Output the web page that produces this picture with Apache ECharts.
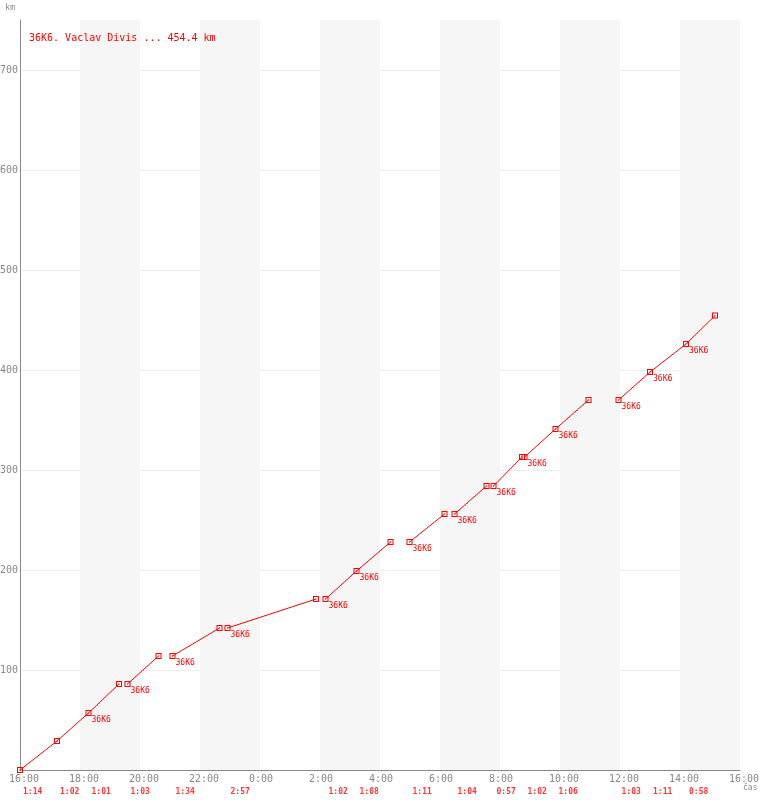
<!DOCTYPE html>
<html>
<head>
<meta charset="utf-8">
<script src="https://cdn.jsdelivr.net/npm/echarts@6/dist/echarts.min.js"></script>
<style>html,body{margin:0;padding:0;background:#fff}#c{width:760px;height:800px}</style>
</head>
<body>
<div id="c"></div>
<script>
// ---- data ----
const titleText = '36K6. Vaclav Divis ... 454.4 km';
const pointTag = '36K6';
const tickLabels = ['16:00','18:00','20:00','22:00','0:00','2:00','4:00','6:00','8:00','10:00','12:00','14:00','16:00'];
const segmentTimes = [
  ['16:00','17:14','18:17','19:18'],
  ['19:35','20:37'],
  ['21:05','22:39'],
  ['22:55','1:52'],
  ['2:11','3:13','4:21'],
  ['4:59','6:09'],
  ['6:29','7:33'],
  ['7:47','8:44'],
  ['8:49','9:51','10:57'],
  ['11:57','13:00','14:12','15:10']
];
const segmentKm = [
  [0,29,57,86],
  [86,114],
  [114,142],
  [142,171],
  [171,199,228],
  [228,256],
  [256,284],
  [284,313],
  [313,341,370],
  [370,398,426,454.4]
];
const segmentTags = [
  [0,0,1,0],
  [1,0],
  [1,0],
  [1,0],
  [1,1,0],
  [1,0],
  [1,0],
  [1,0],
  [1,1,0],
  [1,1,1,0]
];
const legDurations = ['1:14','1:02','1:01','1:03','1:34','2:57','1:02','1:08','1:11','1:04','0:57','1:02','1:06','1:03','1:11','0:58'];

// ---- helpers ----
function toMin(s){
  const p = s.split(':');
  let m = (+p[0])*60 + (+p[1]) - 16*60;
  if (m < 0) m += 1440;
  return m;
}
const RED = '#ff0000';
const GRAY = '#888888';
const MONO = '"DejaVu Sans Mono", "Liberation Mono", monospace';
const markerPath = 'path://M0,0H6V6H0Z M1,1V5H5V1Z M2.5,2.5H3.5V3.5H2.5Z';

const series = [];
const legStarts = [];
segmentTimes.forEach((seg, si) => {
  const data = seg.map((t, i) => {
    if (i < seg.length - 1) legStarts.push(toMin(t));
    return {
      value: [toMin(t), segmentKm[si][i]],
      label: { show: !!segmentTags[si][i] }
    };
  });
  series.push({
    type: 'line',
    data: data,
    symbol: markerPath,
    symbolSize: 6,
    showAllSymbol: true,
    lineStyle: { color: RED, width: 1 },
    itemStyle: { color: RED },
    label: {
      formatter: pointTag,
      position: [6, 6],
      align: 'left',
      verticalAlign: 'top',
      color: RED,
      fontFamily: MONO,
      fontSize: 8
    },
    emphasis: { disabled: true },
    animation: false,
    z: 3
  });
});
series.push({
  type: 'scatter',
  data: legStarts.map((t, i) => ({ value: [t, 0], name: legDurations[i] })),
  symbolSize: 0,
  clip: false,
  label: {
    show: true,
    formatter: p => p.name,
    position: [3, 22],
    align: 'left',
    verticalAlign: 'middle',
    color: RED,
    fontFamily: MONO,
    fontSize: 8,
    fontWeight: 'bold'
  },
  animation: false,
  silent: true
});

const chart = echarts.init(document.getElementById('c'), null, { renderer: 'canvas' });
chart.setOption({
  animation: false,
  backgroundColor: '#fff',
  title: {
    text: titleText,
    left: 24,
    top: 28,
    textStyle: { color: RED, fontFamily: MONO, fontSize: 10, fontWeight: 'normal' }
  },
  grid: { left: 20, right: 20, top: 20, bottom: 30, containLabel: false, outerBoundsMode: 'none' },
  xAxis: {
    type: 'value',
    min: 0, max: 1440, interval: 120,
    name: 'čas',
    nameLocation: 'end',
    nameGap: 3,
    nameTextStyle: { color: GRAY, fontFamily: MONO, fontSize: 8, align: 'left', verticalAlign: 'top', padding: [14, 0, 0, 0] },
    axisLine: { lineStyle: { color: GRAY, width: 1 } },
    axisTick: { show: false },
    axisLabel: {
      color: GRAY, fontFamily: MONO, fontSize: 10, margin: 4,
      align: 'left', padding: [0, 0, 0, -11],
      formatter: v => tickLabels[Math.round(v / 120)]
    },
    splitLine: { show: false },
    splitArea: { show: true, areaStyle: { color: ['rgba(255,255,255,0)', '#f6f6f6'] } }
  },
  yAxis: {
    type: 'value',
    min: 0, max: 750, interval: 100,
    name: 'km',
    nameLocation: 'end',
    nameGap: 8,
    nameTextStyle: { color: GRAY, fontFamily: MONO, fontSize: 8, align: 'right', padding: [0, 5, 0, 0] },
    axisLine: { show: true, lineStyle: { color: GRAY, width: 1 } },
    axisTick: { show: false },
    axisLabel: {
      color: GRAY, fontFamily: MONO, fontSize: 10, margin: 2,
      showMaxLabel: false,
      formatter: v => (v === 0 || v === 750 ? '' : String(v))
    },
    splitLine: { show: true, showMaxLine: false, showMinLine: false, lineStyle: { color: '#eeeeee', width: 1 } }
  },
  series: series
});
</script>
</body>
</html>
